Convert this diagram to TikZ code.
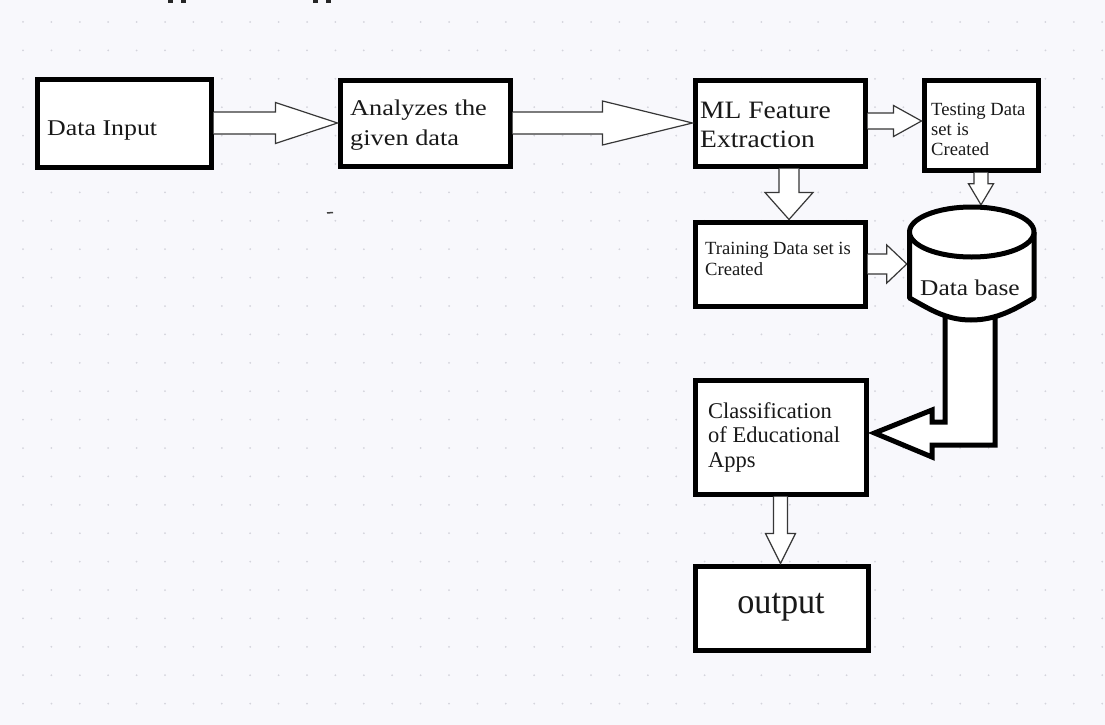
\documentclass[tikz,border=0pt]{standalone}
\usepackage{fontspec}
\setmainfont{Liberation Serif}
\usepackage{graphicx}
\usetikzlibrary{calc}

\definecolor{paper}{RGB}{248,248,252}
\definecolor{griddot}{RGB}{212,212,220}
\definecolor{arrowline}{RGB}{55,55,55}
\definecolor{ink}{RGB}{25,25,25}

% left-aligned lines, stretched horizontally by #1, baseline on the first line
\newcommand\stretchlines[2]{\scalebox{#1}[1]{\begin{tabular}[t]{@{}l@{}}#2\end{tabular}}}

% hollow block arrow: #1 start, #2 tip, #3 shaft half-width, #4 head half-width, #5 head length
\newcommand\blockarrow[5]{%
  \path #1 coordinate (ba-s) #2 coordinate (ba-t);
  \path ($(ba-t)!#5!(ba-s)$) coordinate (ba-b);
  \filldraw[hollow]
    ($(ba-s)!#3!90:(ba-t)$) -- ($(ba-b)!#3!90:(ba-t)$) -- ($(ba-b)!#4!90:(ba-t)$)
    -- (ba-t)
    -- ($(ba-b)!#4!-90:(ba-t)$) -- ($(ba-b)!#3!-90:(ba-t)$) -- ($(ba-s)!#3!-90:(ba-t)$);
}

\tikzset{
  box/.style 2 args={draw=black, line width=5pt, fill=white, inner sep=0pt,
    minimum width=#1pt, minimum height=#2pt},
  lbl/.style={inner sep=0pt, anchor=base west, text=ink},
  hollow/.style={draw=arrowline, fill=white, line width=1.2pt, line join=miter},
  bigarrow/.style={draw=black, fill=white, line width=5pt, line join=miter},
  drum/.style={draw=black, line width=5pt, line join=round},
  stem/.style={fill=black!85},
}

\begin{document}
\begin{tikzpicture}[x=1pt, y=-1pt]
  % page and dotted grid
  \useasboundingbox (0,0) rectangle (1105,725);
  \fill[paper] (0,0) rectangle (1105,725);
  \foreach \gx in {0,...,38}
    \foreach \gy in {0,...,24}
      \fill[griddot] (23+\gx*28.4, 22+\gy*28.4) circle[radius=1pt];

  % descender stems left over at the upper edge
  \foreach \sx in {168,181,313,326}
    \fill[stem] (\sx,0) rectangle ++(4.5,3.5);
  \draw[line width=1.5pt, black!75] (327,213) -- (333,212.5);

  % process boxes
  \node[box={174}{88}] (din)   at (124,123)   {};
  \node[box={170}{86}] (ana)   at (425,123)   {};
  \node[box={170}{86}] (ml)    at (780,123)   {};
  \node[box={114}{90}] (test)  at (981,125)   {};
  \node[box={170}{84}] (train) at (780,264)   {};
  \node[box={171}{114}] (class) at (780.5,437) {};
  \node[box={173}{84}] (out)   at (781.5,608) {};

  % outline of the database drum
  \node[inner sep=0pt, minimum width=129.5pt, minimum height=117pt] (db) at (971.75,263.5) {};

  % box texts
  \node[lbl, font=\fontsize{22.5}{30}\selectfont] (tdin) at (47,135)
    {\stretchlines{1.15}{Data Input}};
  \node[lbl, font=\fontsize{22.5}{30}\selectfont] (tana) at (350,115)
    {\stretchlines{1.17}{Analyzes the\\given data}};
  \node[lbl, font=\fontsize{25}{29}\selectfont] (tml) at (700,118)
    {\stretchlines{1.1}{ML Feature\\Extraction}};
  \node[lbl, font=\fontsize{18.6}{20}\selectfont] (ttest) at (931,115)
    {\stretchlines{1}{Testing Data\\set is\\Created}};
  \node[lbl, font=\fontsize{18.6}{21}\selectfont] (ttrain) at (705,254)
    {\stretchlines{1}{Training Data set is\\Created}};
  \node[lbl, font=\fontsize{22.5}{24.7}\selectfont] (tclass) at (708,418)
    {\stretchlines{1}{Classification\\of Educational\\Apps}};
  \node[inner sep=0pt, anchor=base, text=ink, font=\fontsize{36}{40}\selectfont] (tout) at (781,613)
    {\scalebox{0.95}[1]{output}};

  % hollow flow arrows
  \blockarrow{(din.east)}{(ana.west)}{11pt}{20.5pt}{62pt}
  \blockarrow{(ana.east)}{(ml.west)}{11pt}{22pt}{90pt}
  \blockarrow{($(ml.east)+(0,-2)$)}{($(ml.east -| test.west)+(0,-2)$)}{8pt}{15.5pt}{28pt}
  \blockarrow{($(ml.south)+(9,0)$)}{($(ml.south |- train.north)+(9,0)$)}{10pt}{24pt}{27pt}
  \blockarrow{(test.south)}{(test.south |- db.north)}{7pt}{12.5pt}{21pt}
  \blockarrow{(train.east)}{(train.east -| db.west)}{10pt}{19pt}{20pt}
  \blockarrow{(class.south)}{(class.south |- out.north)}{7pt}{15pt}{30pt}

  % heavy elbow arrow from the database to the classifier
  \coordinate (bt) at ($(class.east)+(6,-4)$);
  \coordinate (bl) at ($(db.south)+(-26.75,-12)$);
  \coordinate (br) at ($(db.south)+(23.25,-12)$);
  \filldraw[bigarrow] (bl) -- (bl |- 0,422) -- (932,422) -- (932,410) -- (bt)
    -- (932,457) -- (932,445) -- (br |- 0,445) -- (br);

  % database drum
  \fill[white] (909.5,232) -- (909.5,298) .. controls (928,308) and (945,320) .. (971,320)
    .. controls (997,320) and (1015,309) .. (1034,298) -- (1034,232) -- cycle;
  \draw[drum] (909.5,232) -- (909.5,298) .. controls (928,308) and (945,320) .. (971,320)
    .. controls (997,320) and (1015,309) .. (1034,298) -- (1034,232);
  \filldraw[drum, fill=white] (971.75,232) ellipse [x radius=62.25pt, y radius=25pt];
  \node[lbl, font=\fontsize{22.5}{30}\selectfont] (tdb) at (920,295)
    {\stretchlines{1.13}{Data base}};
\end{tikzpicture}
\end{document}
